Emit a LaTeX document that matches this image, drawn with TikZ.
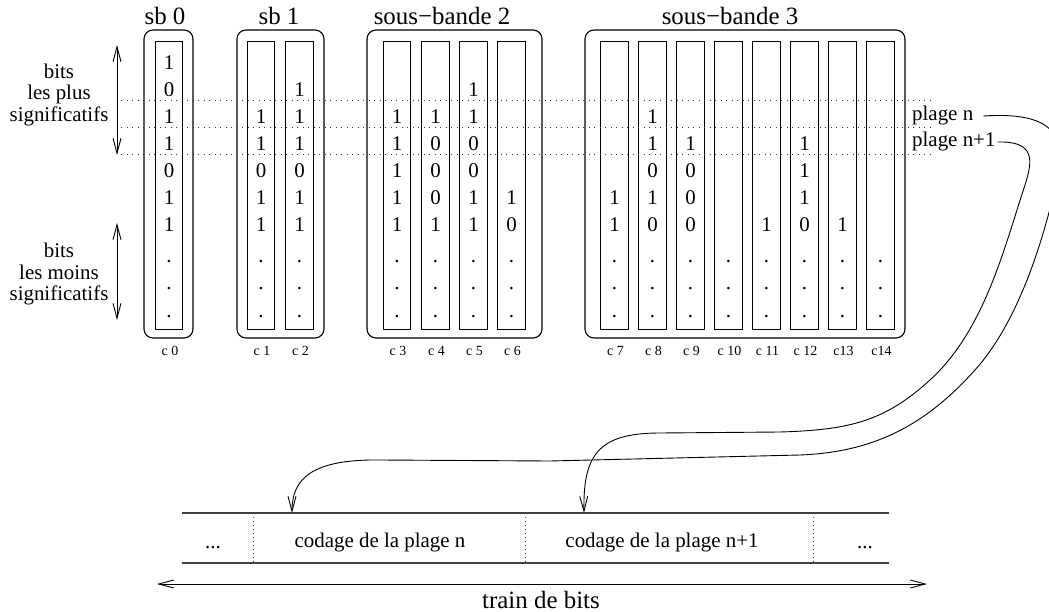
\documentclass[tikz,border=0pt]{standalone}
\usepackage{fontspec}
\setmainfont{Liberation Serif}
\usetikzlibrary{arrows.meta}
\begin{document}
\begin{tikzpicture}[x=1bp,y=-1bp,
  colbox/.style={draw, line width=0.9bp, minimum width=27.5bp, minimum height=288bp, inner sep=0pt},
  grp/.style={draw, line width=1.1bp, rounded corners=9bp, inner sep=0pt},
  digit/.style={font=\fontsize{21}{21}\selectfont, anchor=base, inner sep=0pt},
  title/.style={font=\fontsize{25}{25}\selectfont, anchor=base, inner sep=0pt},
  lbl/.style={font=\fontsize{21}{22}\selectfont, inner sep=0pt},
  clbl/.style={font=\fontsize{14}{14}\selectfont, inner sep=0pt},
  dotline/.style={line width=1bp, dash pattern=on 1.1bp off 4.4bp, black!80},
  sepline/.style={line width=0.9bp, dash pattern=on 1bp off 3bp, black!70},
  barline/.style={line width=1.3bp, black!75},
  tipA/.tip={Straight Barb[length=15bp,width=8bp]},
  conn/.style={line width=0.9bp},
  dbl/.style={line width=0.9bp, tipA-tipA},
]
\useasboundingbox (0,0) rectangle (1049,612);
\clip (0,0) rectangle (1049,612);
% group boxes
\node[grp, minimum width=49bp, minimum height=308bp] (sb0) at (168.5,184) {};
\node[grp, minimum width=87bp, minimum height=308bp] (sb1) at (280.5,184) {};
\node[grp, minimum width=175bp, minimum height=308bp] (sb2) at (454.5,184) {};
\node[grp, minimum width=320bp, minimum height=308bp] (sb3) at (745,184) {};
% titles
\node[title] (t0) at (165,25) {sb 0};
\node[title] (t1) at (279,25) {sb 1};
\node[title] (t2) at (442,25) {sous−bande 2};
\node[title] (t3) at (730,25) {sous−bande 3};
% columns
\def\e{}
\foreach \i/\x/\lab/\bits in {
  0/169/{c 0}/{1,0,1,1,0,1,1},
  1/261/{c 1}/{\e,\e,1,1,0,1,1},
  2/299.5/{c 2}/{\e,1,1,1,0,1,1},
  3/397/{c 3}/{\e,\e,1,1,1,1,1},
  4/435.5/{c 4}/{\e,\e,1,0,0,0,1},
  5/473.5/{c 5}/{\e,1,1,0,0,1,1},
  6/511.5/{c 6}/{\e,\e,\e,\e,\e,1,0},
  7/614.5/{c 7}/{\e,\e,\e,\e,\e,1,1},
  8/652.5/{c 8}/{\e,\e,1,1,0,1,0},
  9/690.5/{c 9}/{\e,\e,\e,1,0,0,0},
  10/728.5/{c 10}/{\e,\e,\e,\e,\e,\e,\e},
  11/766.5/{c 11}/{\e,\e,\e,\e,\e,\e,1},
  12/804.5/{c 12}/{\e,\e,\e,1,1,1,0},
  13/842.5/{c13}/{\e,\e,\e,\e,\e,\e,1},
  14/880.5/{c14}/{\e,\e,\e,\e,\e,\e,\e}}{
  \node[colbox] (c\i) at (\x,185) {};
  \node[clbl] (cl\i) at (\x+1,351) {\lab};
  \foreach \b [count=\r] in \bits {
    \node[digit] (d\i-\r) at (\x,70+27*\r-27) {\b};
  }
  \foreach \r in {1,2,3} {
    \node[digit] (p\i-\r) at (\x,236+27*\r) {.};
  }
}
% dotted lines
\foreach \k/\y in {1/101,2/128,3/155}{
  \coordinate (dl\k) at (121,\y);
  \coordinate (dr\k) at (932,\y);
  \draw[dotline] (dl\k) -- (dr\k);
}
% left labels and arrows
\node[lbl, align=center] (msb) at (59,95) {bits\\les plus\\significatifs};
\node[lbl, align=center] (lsb) at (59,274) {bits\\les moins\\significatifs};
\coordinate (a1) at (117,45); \coordinate (a2) at (117,155);
\coordinate (a3) at (117,223); \coordinate (a4) at (117,320);
\draw[dbl] (a1) -- (a2);
\draw[dbl] (a3) -- (a4);
% plage labels
\node[lbl, anchor=base west] (pn) at (912,121) {plage n};
\node[lbl, anchor=base west] (pn1) at (912,147) {plage n+1};
% bar
\coordinate (bl1) at (182,513); \coordinate (br1) at (889,513);
\coordinate (bl2) at (182,563); \coordinate (br2) at (889,563);
\draw[barline] (bl1) -- (br1);
\draw[barline] (bl2) -- (br2);
\foreach \k/\x in {1/253,2/525,3/813}{
  \coordinate (st\k) at (\x,513); \coordinate (sb\k) at (\x,563);
  \draw[sepline] (st\k) -- (sb\k);
}
\node[lbl, anchor=base] (e1) at (213,548) {...};
\node[lbl, anchor=base] (cn) at (380,547) {codage de la plage n};
\node[lbl, anchor=base] (cn1) at (662,547) {codage de la plage n+1};
\node[lbl, anchor=base] (e2) at (865,548) {...};
\coordinate (tA) at (292,513);
\coordinate (tB) at (584,513);
% curves
\draw[conn, -tipA] ([xshift=10bp]pn.east) .. controls (1045,112) and (1068,130) .. (1058,175)
  .. controls (1045,235) and (1020,320) .. (975,370)
  .. controls (930,420) and (880,452) .. (800,455)
  -- (550,461) -- (380,460)
  .. controls (310,459) and (292,480) .. (tA);
\draw[conn, -tipA] ([xshift=2bp]pn1.east) .. controls (1035,141) and (1033,160) .. (1025,185)
  .. controls (1005,245) and (985,330) .. (930,380)
  .. controls (885,421) and (850,430) .. (780,432)
  -- (660,433)
  .. controls (598,433) and (583,455) .. (tB);
% train de bits
\coordinate (bs) at (157,584); \coordinate (be) at (927,584);
\draw[dbl] (bs) -- (be);
\node[font=\fontsize{25}{25}\selectfont, inner sep=0pt] (train) at (541,600) {train de bits};
\end{tikzpicture}
\end{document}
